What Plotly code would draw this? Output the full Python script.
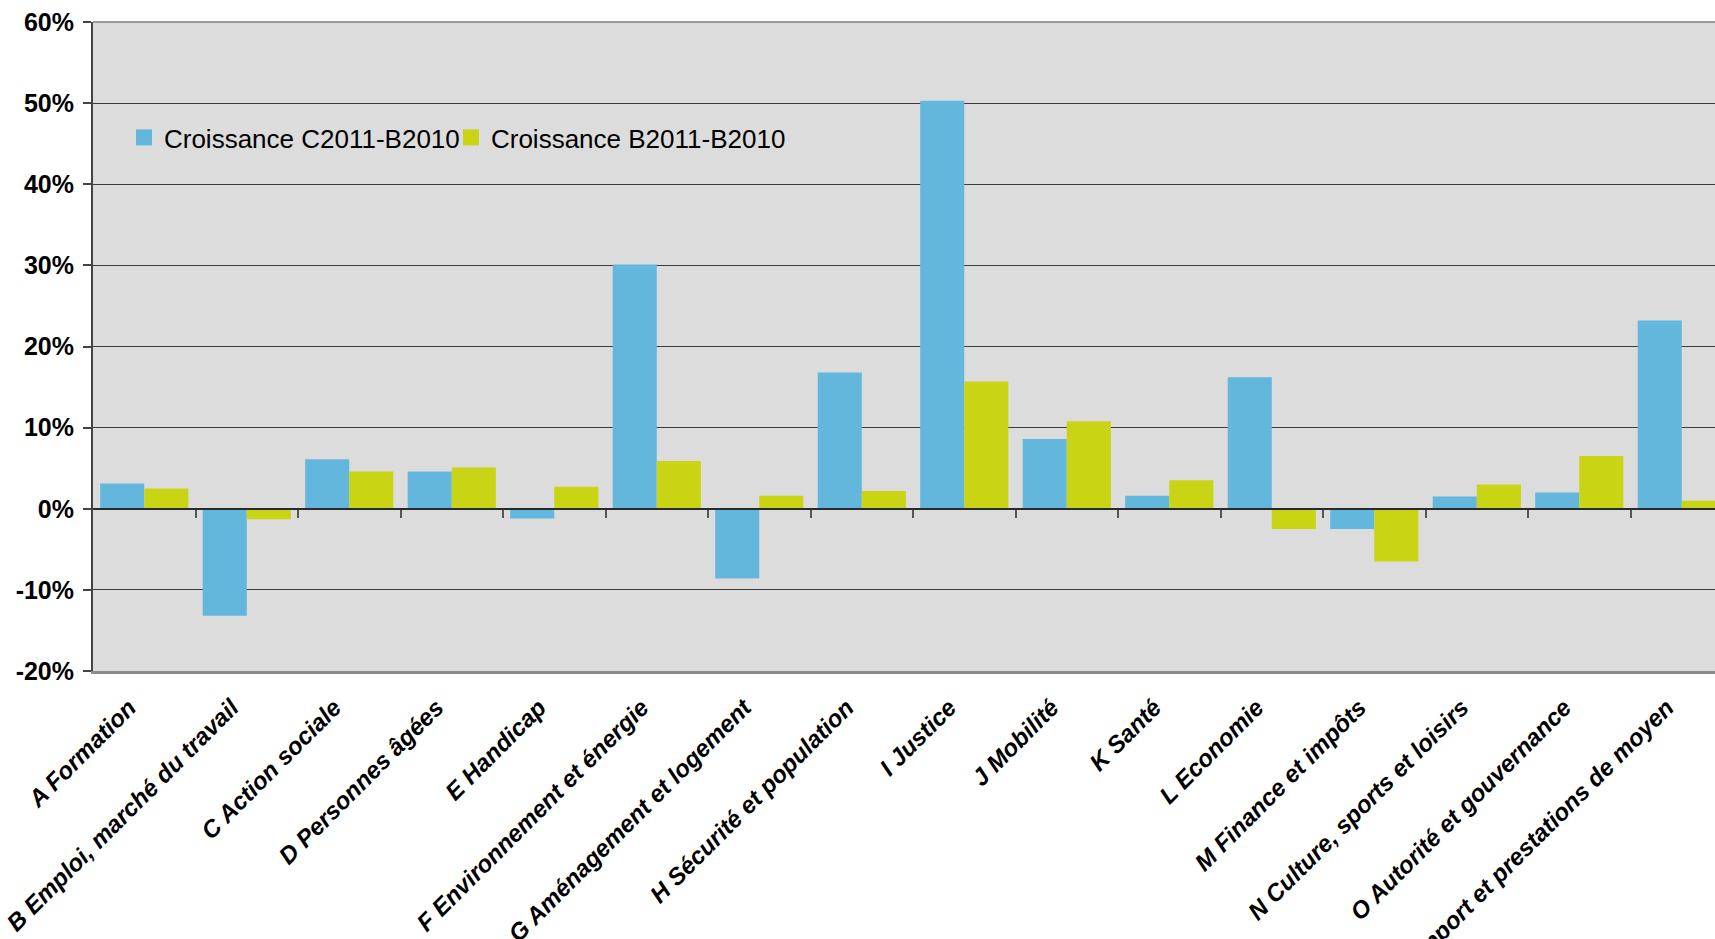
import plotly.graph_objects as go

# Categories (domaines) and growth rates in %
categories = [
    "A Formation",
    "B Emploi, marché du travail",
    "C Action sociale",
    "D Personnes âgées",
    "E Handicap",
    "F Environnement et énergie",
    "G Aménagement et logement",
    "H Sécurité et population",
    "I Justice",
    "J Mobilité",
    "K Santé",
    "L Economie",
    "M Finance et impôts",
    "N Culture, sports et loisirs",
    "O Autorité et gouvernance",
    "P Support et prestations de moyen",
]
croissance_c2011_b2010 = [3.1, -13.2, 6.1, 4.6, -1.2, 30.1, -8.6, 16.8, 50.3, 8.6, 1.6, 16.2, -2.5, 1.5, 2.0, 23.2]
croissance_b2011_b2010 = [2.5, -1.3, 4.6, 5.1, 2.7, 5.9, 1.6, 2.2, 15.7, 10.8, 3.5, -2.5, -6.5, 3.0, 6.5, 1.0]
series_names = ["Croissance C2011-B2010", "Croissance B2011-B2010"]

y_tick_values = [-20, -10, 0, 10, 20, 30, 40, 50, 60]
y_tick_labels = ["-20%", "-10%", "0%", "10%", "20%", "30%", "40%", "50%", "60%"]

BLUE = "#63b7dd"
YELLOW = "#c8d414"
FONT = "Liberation Sans"

n = len(categories)
x_idx = list(range(n))
x_right = n - 0.5 - 0.176  # last group runs past the right edge

fig = go.Figure()
for values, name, color in zip([croissance_c2011_b2010, croissance_b2011_b2010], series_names, [BLUE, YELLOW]):
    fig.add_trace(go.Bar(
        x=x_idx, y=values, name=name, legendgroup=name, showlegend=False,
        marker=dict(color=color, line=dict(width=0)),
    ))
# legend entries with larger square swatches, one legend box per series
for name, color, leg in zip(series_names, [BLUE, YELLOW], ["legend", "legend2"]):
    fig.add_trace(go.Scatter(
        x=[None], y=[None], mode="markers", name=name, legendgroup=name, legend=leg,
        marker=dict(symbol="square", size=17, color=color, line=dict(width=0)),
        hoverinfo="skip",
    ))
# carrier for the zero-crossing category axis (tick marks between groups)
fig.add_trace(go.Scatter(x=[], y=[], xaxis="x2", showlegend=False, hoverinfo="skip"))

legend_style = dict(
    orientation="h", yanchor="middle", xanchor="left", y=0.822,
    bgcolor="rgba(0,0,0,0)",
    font=dict(size=26, family=FONT, color="black"),
    itemwidth=30, itemsizing="trace",
)

fig.update_layout(
    width=1715, height=939,
    margin=dict(l=93, r=0, t=22, b=268, autoexpand=False),
    paper_bgcolor="white",
    plot_bgcolor="#dcdcdc",
    barmode="group",
    bargap=0.14,
    bargroupgap=0,
    font=dict(family=FONT, color="black"),
    showlegend=True,
    legend=dict(x=0.0191, **legend_style),
    legend2=dict(x=0.2207, **legend_style),
    xaxis=dict(
        type="linear",
        range=[-0.5, x_right],
        tickmode="array",
        tickvals=x_idx,
        ticktext=categories,
        tickangle=-45,
        tickfont=dict(size=24, family=FONT, color="black", weight="bold", style="italic"),
        ticklabelshift=-15,
        ticklabelstandoff=10,
        ticks="",
        showgrid=False,
        zeroline=False,
        showline=True,
        linecolor="#8a8a8a",
        linewidth=3,
        automargin=False,
    ),
    xaxis2=dict(
        overlaying="x",
        anchor="free",
        position=0.25,
        range=[-0.5, x_right],
        tickmode="array",
        tickvals=[i + 0.5 for i in range(n - 1)],
        ticks="outside",
        ticklen=8,
        tickwidth=2,
        tickcolor="#555555",
        showticklabels=False,
        showgrid=False,
        zeroline=False,
        showline=True,
        linecolor="#2a2a2a",
        linewidth=2,
        layer="above traces",
    ),
    yaxis=dict(
        range=[-20, 60],
        tickmode="array",
        tickvals=y_tick_values,
        ticktext=y_tick_labels,
        tickfont=dict(size=25, family=FONT, color="black", weight="bold"),
        ticks="outside",
        ticklen=8,
        tickwidth=1.5,
        tickcolor="#444444",
        ticklabelstandoff=4,
        showgrid=True,
        gridcolor="#3c3c3c",
        gridwidth=1.2,
        zeroline=False,
        showline=True,
        linecolor="#444444",
        linewidth=2,
        automargin=False,
    ),
    shapes=[
        dict(type="line", xref="paper", yref="paper", x0=0, x1=1, y0=1, y1=1,
             line=dict(color="#9a9a9a", width=2), layer="above"),
    ],
)

fig.write_html("out.html")
